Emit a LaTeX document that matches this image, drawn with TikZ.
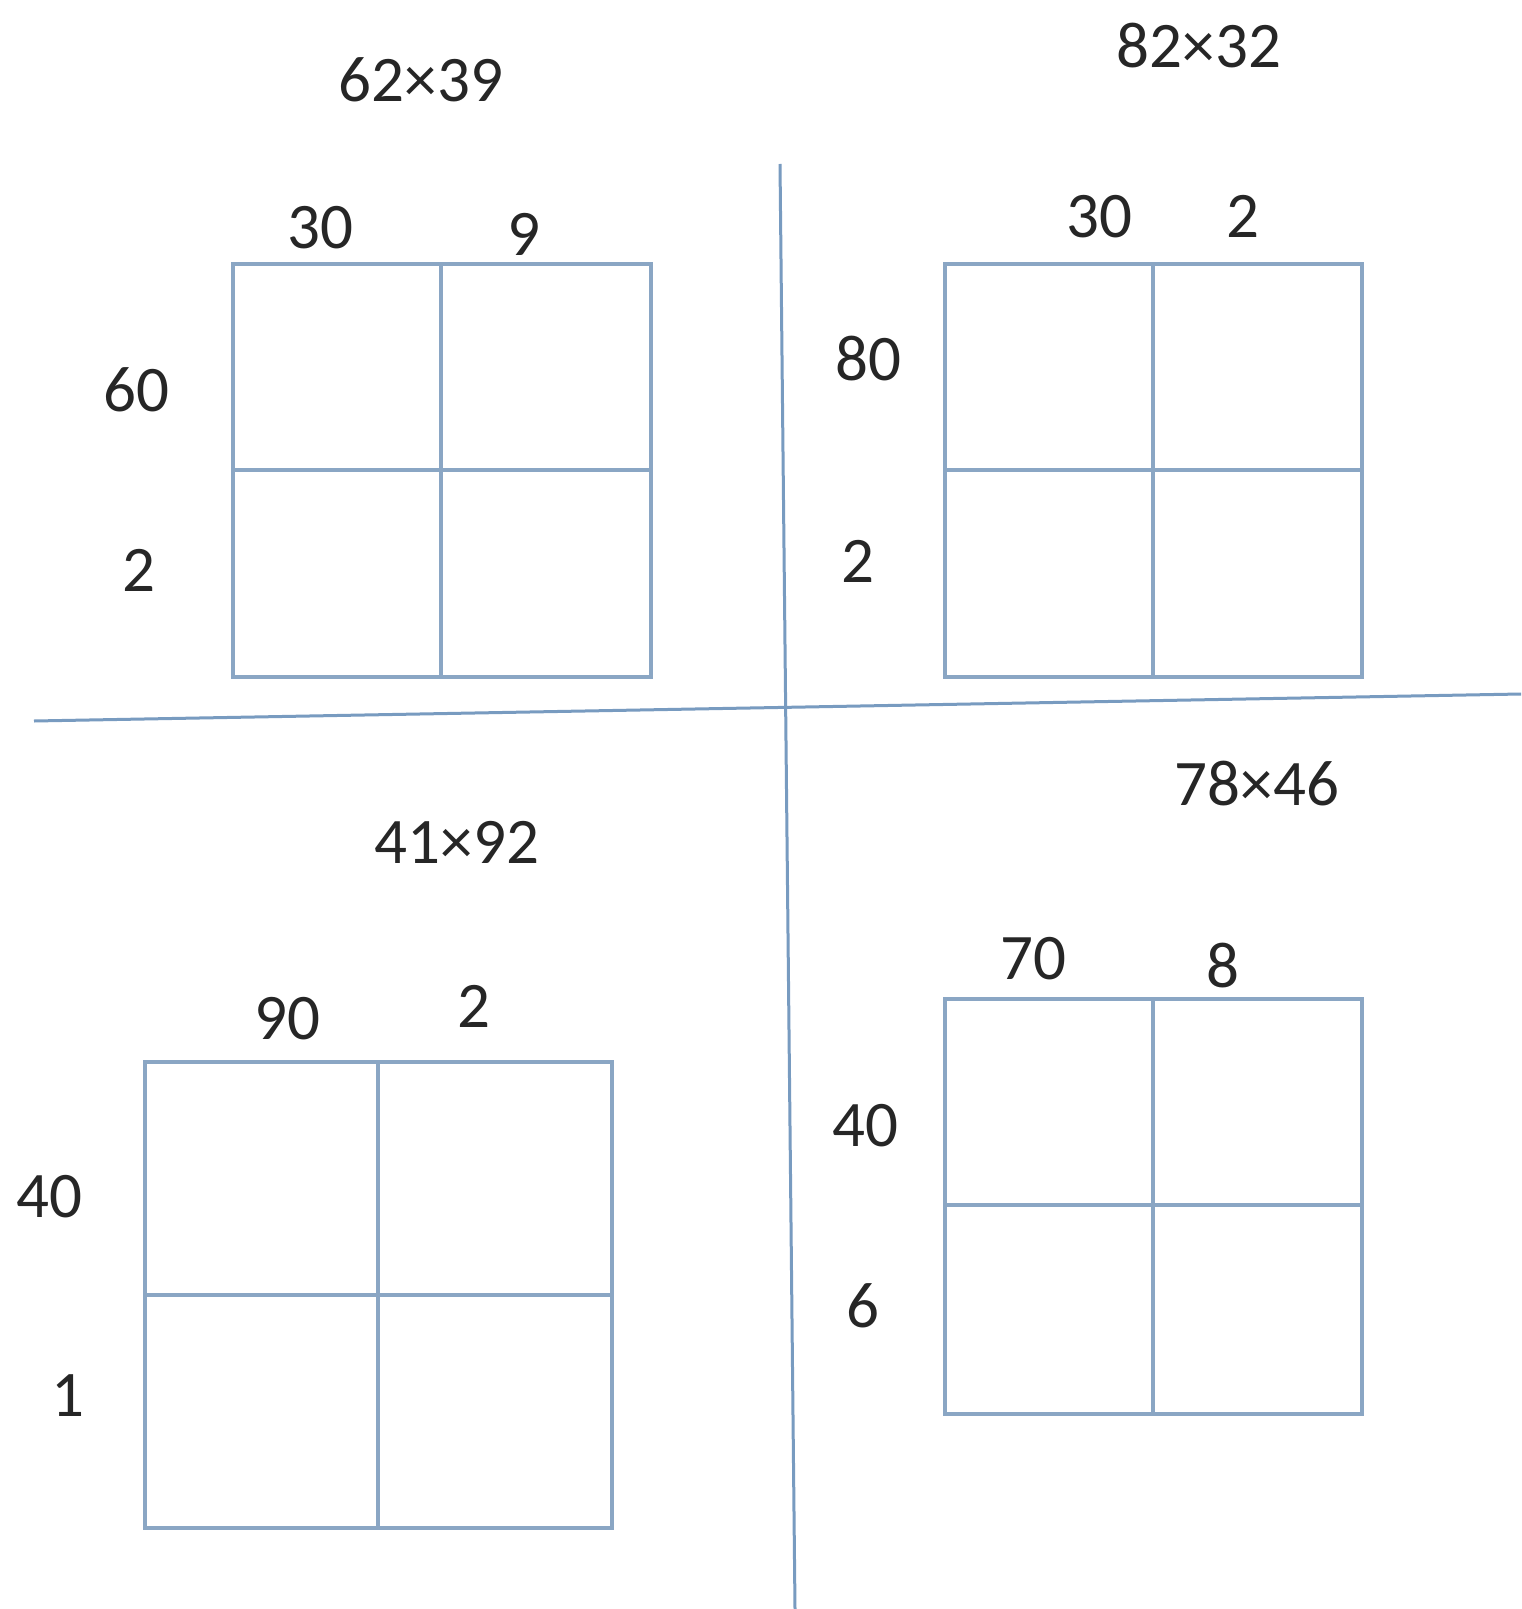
\documentclass[tikz,border=0pt]{standalone}
\usepackage{fontspec}
\setmainfont{Carlito}
\usetikzlibrary{positioning,calc}
\definecolor{gridblue}{RGB}{138,166,196}
\definecolor{sepblue}{RGB}{120,155,192}
\tikzset{
  cell/.style={draw=gridblue, line width=2pt},
  sep/.style={draw=sepblue, line width=1.5pt},
  num/.style={font=\fontsize{32.5}{38}\selectfont, text=black!85, inner sep=0pt},
}

\begin{document}
\begin{tikzpicture}[x=0.5pt, y=-0.5pt]
\useasboundingbox[fill=white] (0,0) rectangle (1521,1609);

% separators
\coordinate (vtop) at (780,164);
\coordinate (vbot) at (795,1609);
\coordinate (hleft) at (34,721);
\coordinate (hright) at (1521,694);
\draw[sep] (vtop) -- (vbot);
\draw[sep] (hleft) -- (hright);

% the four 2x2 grids
\foreach \g/\xa/\xm/\xb/\ya/\ym/\yb in {
  tl/233/441/651/264/470/677,
  tr/945/1153/1362/264/470/677,
  bl/145/378/612/1062/1295/1528,
  br/945/1153/1362/999/1205/1414}
{
  \draw[cell] (\xa,\ya) rectangle (\xb,\yb);
  \draw[cell] (\xm,\ya) -- (\xm,\yb);
  \draw[cell] (\xa,\ym) -- (\xb,\ym);
}

% top left
\node[num] (tltitle) at (421,80) {62×39};
\node[num] (tlc1) at (320,228) {30};
\node[num] (tlc2) at (524,234) {9};
\node[num] (tlr1) at (136,390) {60};
\node[num] (tlr2) at (139,570) {2};

% top right
\node[num] (trtitle) at (1199,46) {82×32};
\node[num] (trc1) at (1099,217) {30};
\node[num] (trc2) at (1243,216) {2};
\node[num] (trr1) at (868,359) {80};
\node[num] (trr2) at (858,561) {2};

% bottom left
\node[num] (bltitle) at (457,842) {41×92};
\node[num] (blc1) at (287,1019) {90};
\node[num] (blc2) at (474,1006) {2};
\node[num] (blr1) at (49,1197) {40};
\node[num] (blr2) at (68,1396) {1};

% bottom right
\node[num] (brtitle) at (1257,784) {78×46};
\node[num] (brc1) at (1033,959) {70};
\node[num] (brc2) at (1223,966) {8};
\node[num] (brr1) at (865,1126) {40};
\node[num] (brr2) at (863,1306) {6};
\end{tikzpicture}
\end{document}
